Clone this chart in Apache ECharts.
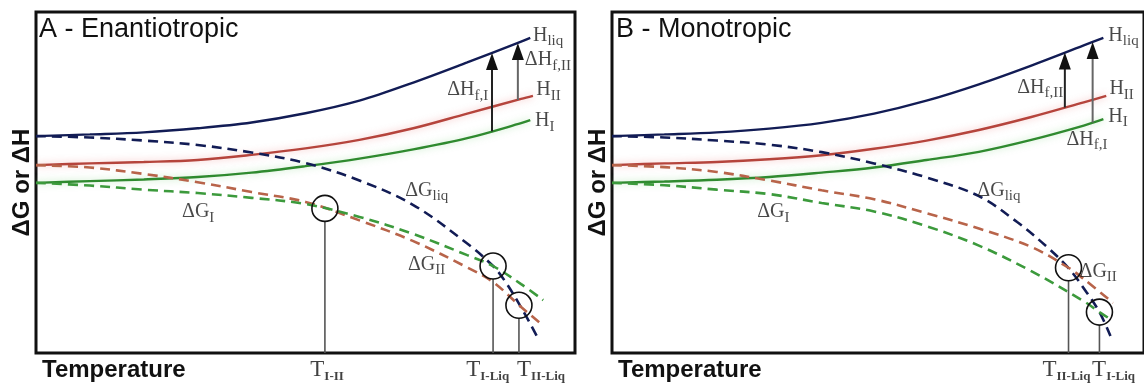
<!DOCTYPE html>
<html>
<head>
<meta charset="utf-8">
<script src="https://cdn.jsdelivr.net/npm/echarts@6/dist/echarts.min.js"></script>
<style>
html,body{margin:0;padding:0;background:#fff}
#chart{width:1144px;height:383px}
</style>
</head>
<body>
<div id="chart"></div>
<script>
// Schematic energy–temperature diagrams, arbitrary units (temperature 0–100, energy 0–100)

// ---- Panel A: enantiotropic system ----
const hLiqA = [[0,63.6],[10,64.1],[20,64.7],[30,65.9],[40,67.6],[50,70.3],[60,74.0],[70,79.3],[80,85.2],[90,91.3],[91.7,92.4]];
const hIIA  = [[0,55.1],[10,55.6],[20,56.0],[30,56.6],[40,58.1],[50,60.0],[60,62.5],[70,65.9],[80,70.2],[90,74.5],[92.2,75.4]];
const hIA   = [[0,49.9],[10,50.4],[20,50.9],[30,51.6],[40,52.9],[50,54.8],[60,57.0],[70,59.7],[80,63.0],[90,67.4],[91.7,68.3]];
const gLiqA = [[0,63.6],[10,63.2],[20,62.3],[30,61.0],[40,58.8],[50,55.7],[60,50.6],[70,43.4],[80,32.1],[84.8,25.5],[87,21.1],[90,13.4],[92.9,5.0]];
const gIIA  = [[0,55.1],[10,54.4],[20,52.5],[30,50.1],[40,47.2],[50,44.3],[60,38.9],[70,32.8],[80,25.1],[84.8,20.8],[90,13.5],[93.5,8.8]];
const gIA   = [[0,49.9],[10,49.1],[20,47.9],[30,46.9],[40,45.5],[50,43.7],[60,39.9],[70,34.9],[80,28.7],[84.8,25.5],[90,20.2],[94.1,15.5]];
// transition points (circled crossings)
const pointsA = [[53.6,42.4],[84.8,25.5],[89.6,14.0]];
// enthalpy-of-fusion arrows: [temperature, from, to, shade]
const arrowsA = [[84.6,65.0,88.0,0],[89.4,74.2,90.9,1]];
// curve labels: [temperature, energy, symbol, subscript]
const labelsA = [
  [92.2,93.0,'H','liq'],
  [90.7,85.9,'ΔH','f,II'],
  [92.8,77.1,'H','II'],
  [92.6,68.0,'H','I'],
  [76.3,77.1,'ΔH','f,I'],
  [68.5,47.5,'ΔG','liq'],
  [69.0,25.8,'ΔG','II'],
  [27.1,41.3,'ΔG','I']
];
// temperature markers under the axis: [temperature, subscript]
const tempsA = [[54.0,'I-II'],[83.8,'I-Liq'],[93.7,'II-Liq']];

// ---- Panel B: monotropic system ----
const hLiqB = [[0,63.6],[10,64.1],[20,64.7],[30,65.8],[40,67.5],[50,70.2],[60,74.0],[70,78.8],[80,84.3],[90,90.2],[93.75,92.4]];
const hIIB  = [[0,55.1],[10,55.6],[20,56.0],[30,56.8],[40,58.0],[50,59.9],[60,62.3],[70,65.4],[80,69.2],[90,73.5],[94.3,75.4]];
const hIB   = [[0,49.9],[10,50.3],[20,50.8],[30,51.6],[40,52.9],[50,54.4],[60,56.6],[70,59.0],[80,62.5],[90,66.7],[93.75,68.6]];
const gLiqB = [[0,63.6],[10,63.2],[20,62.3],[30,61.1],[40,58.9],[50,55.6],[60,51.5],[70,46.0],[77.3,38.4],[83,31.1],[87.1,24.9],[90.5,17.9],[93,12.0],[95.1,5.0]];
const gIIB  = [[0,55.1],[10,54.5],[20,53.1],[30,50.6],[40,47.7],[50,45.1],[60,41.0],[70,36.5],[80,31.1],[87.1,25.0],[90,21.7],[95.6,14.7]];
const gIB   = [[0,49.9],[10,49.2],[20,47.9],[30,46.6],[40,44.0],[50,41.5],[60,37.2],[70,31.5],[80,24.0],[90,15.2],[93,12.0],[95.3,9.7]];
const pointsB = [[87.1,25.0],[93.0,12.0]];
const arrowsB = [[86.4,72.0,88.1,0],[91.7,67.6,91.2,1]];
const labelsB = [
  [94.7,93.0,'H','liq'],
  [77.3,77.7,'ΔH','f,II'],
  [94.9,77.4,'H','II'],
  [94.7,69.2,'H','I'],
  [86.7,62.5,'ΔH','f,I'],
  [69.7,47.5,'ΔG','liq'],
  [89.2,23.8,'ΔG','II'],
  [27.7,41.3,'ΔG','I']
];
const tempsB = [[86.7,'II-Liq'],[95.7,'I-Liq']];

const panelTitles = ['A - Enantiotropic', 'B - Monotropic'];
// temperature range shown in each panel (panel B runs a little past the page edge)
const tempMax = [100, 101.5];

const NAVY = '#121c55';
const RED = '#b5443c';
const RED_DASH = '#b8644a';
const GREEN = '#2f8a2f';
const GREEN_DASH = '#3c9a3c';
const SERIF = 'Liberation Serif, DejaVu Serif, serif';
const SANS = 'Liberation Sans, Arial, sans-serif';

function solid(data, color, glow, i) {
  return {
    type: 'line', xAxisIndex: i, yAxisIndex: i, data, smooth: 0.35,
    showSymbol: false, silent: true, z: 3,
    lineStyle: { color, width: 2.4, shadowBlur: glow ? 7 : 0, shadowColor: glow || 'transparent' }
  };
}
function dashed(data, color, i) {
  return {
    type: 'line', xAxisIndex: i, yAxisIndex: i, data, smooth: 0.35,
    showSymbol: false, silent: true, z: 3,
    lineStyle: { color, width: 2.6, type: [10, 6] }
  };
}

function renderPoint(params, api) {
  const c = api.coord([api.value(0), api.value(1)]);
  const base = api.coord([api.value(0), 0]);
  const r = 13;
  return {
    type: 'group',
    children: [
      { type: 'line', shape: { x1: c[0], y1: c[1] + r, x2: c[0], y2: base[1] },
        style: { stroke: '#555', lineWidth: 1.6 } },
      { type: 'circle', shape: { cx: c[0], cy: c[1], r },
        style: { fill: 'none', stroke: '#111', lineWidth: 1.6 } }
    ]
  };
}

function renderArrow(params, api) {
  const x = api.value(0);
  const p0 = api.coord([x, api.value(1)]);
  const p1 = api.coord([x, api.value(2)]);
  const shade = api.value(3) ? '#666' : '#222';
  const headL = 17, headW = 6;
  return {
    type: 'group',
    children: [
      { type: 'line', shape: { x1: p0[0], y1: p0[1], x2: p1[0], y2: p1[1] + headL - 2 },
        style: { stroke: shade, lineWidth: 2 } },
      { type: 'polygon', shape: { points: [[p1[0], p1[1]], [p1[0] - headW, p1[1] + headL], [p1[0] + headW, p1[1] + headL]] },
        style: { fill: '#111' } }
    ]
  };
}

const curveRich = {
  m: { fontFamily: SERIF, fontSize: 20, color: '#1a1a1a', lineHeight: 26, verticalAlign: 'middle' },
  s: { fontFamily: SERIF, fontSize: 15, color: '#1a1a1a', lineHeight: 15, verticalAlign: 'bottom' }
};
const tempRich = {
  m: { fontFamily: SERIF, fontSize: 23, color: '#111', lineHeight: 26, verticalAlign: 'middle' },
  s: { fontFamily: SERIF, fontSize: 13, fontWeight: 'bold', color: '#111', lineHeight: 13, verticalAlign: 'bottom' }
};

function panelSeries(i, curves, points, arrows, labels, temps) {
  return [
    solid(curves.hLiq, NAVY, null, i),
    solid(curves.hII, RED, 'rgba(235,120,120,0.5)', i),
    solid(curves.hI, GREEN, 'rgba(120,210,120,0.5)', i),
    dashed(curves.gLiq, NAVY, i),
    dashed(curves.gII, RED_DASH, i),
    dashed(curves.gI, GREEN_DASH, i),
    { type: 'custom', xAxisIndex: i, yAxisIndex: i, renderItem: renderPoint,
      data: points, encode: { x: 0, y: 1 }, silent: true, z: 5 },
    { type: 'custom', xAxisIndex: i, yAxisIndex: i, renderItem: renderArrow,
      data: arrows, encode: { x: 0, y: [1, 2] }, silent: true, z: 5 },
    { type: 'scatter', xAxisIndex: i, yAxisIndex: i, symbolSize: 0, silent: true, clip: false, z: 6,
      data: labels,
      label: { show: true, position: 'right', distance: 0, rich: curveRich,
        formatter: p => `{m|${p.value[2]}}{s|${p.value[3]}}` } },
    { type: 'scatter', xAxisIndex: i, yAxisIndex: i, symbolSize: 0, silent: true, clip: false, z: 6,
      data: temps.map(t => [t[0], 0, t[1]]),
      label: { show: true, position: 'bottom', distance: 4, rich: tempRich,
        formatter: p => `{m|T}{s|${p.value[2]}}` } }
  ];
}

const grids = [
  { left: 36, top: 12, width: 539, height: 341 },
  { left: 612, top: 12, width: 536, height: 341 }
].map(g => Object.assign(g, { show: true, borderColor: '#111', borderWidth: 3, backgroundColor: 'transparent' }));

const xAxes = [0, 1].map(i => ({
  type: 'value', gridIndex: i, min: 0, max: tempMax[i],
  axisLine: { show: false }, axisTick: { show: false }, axisLabel: { show: false }, splitLine: { show: false },
  name: 'Temperature', nameLocation: 'start', nameGap: -6,
  nameTextStyle: { fontFamily: SANS, fontWeight: 'bold', fontSize: 24, color: '#111',
    align: 'left', verticalAlign: 'top', padding: [5, 0, 0, 0] }
}));
const yAxes = [0, 1].map(i => ({
  type: 'value', gridIndex: i, min: 0, max: 100,
  axisLine: { show: false }, axisTick: { show: false }, axisLabel: { show: false }, splitLine: { show: false },
  name: 'ΔG or ΔH', nameLocation: 'middle', nameRotate: 90, nameGap: 2,
  nameTextStyle: { fontFamily: SANS, fontWeight: 'bold', fontSize: 24, color: '#111' }
}));

const chart = echarts.init(document.getElementById('chart'), null, { renderer: 'canvas' });
chart.setOption({
  animation: false,
  backgroundColor: '#fff',
  title: panelTitles.map((t, i) => ({
    text: t, left: i ? 616 : 39, top: 16, padding: 0,
    textStyle: { fontFamily: SANS, fontWeight: 'normal', fontSize: 27, color: '#111' }
  })),
  grid: grids,
  xAxis: xAxes,
  yAxis: yAxes,
  series: [
    ...panelSeries(0, { hLiq: hLiqA, hII: hIIA, hI: hIA, gLiq: gLiqA, gII: gIIA, gI: gIA }, pointsA, arrowsA, labelsA, tempsA),
    ...panelSeries(1, { hLiq: hLiqB, hII: hIIB, hI: hIB, gLiq: gLiqB, gII: gIIB, gI: gIB }, pointsB, arrowsB, labelsB, tempsB)
  ]
});
</script>
</body>
</html>
